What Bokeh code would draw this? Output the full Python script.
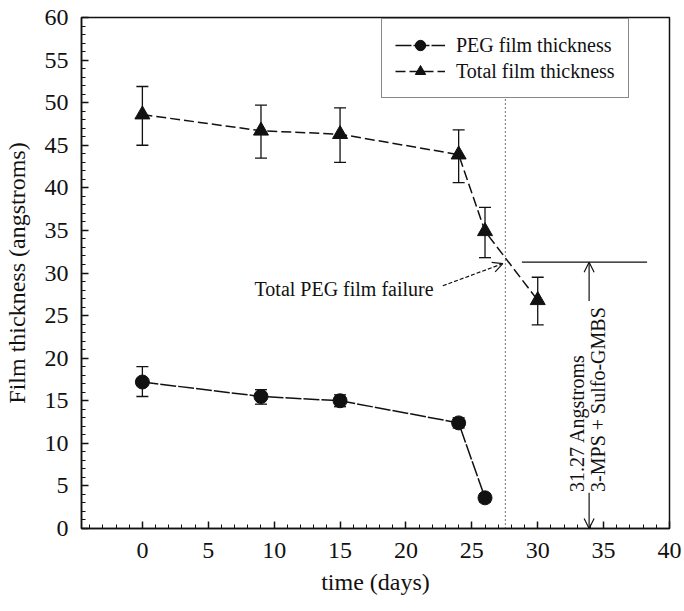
from bokeh.plotting import figure
from bokeh.models import (ColumnDataSource, Whisker, TeeHead, Arrow, OpenHead,
                          Legend, LegendItem, SingleIntervalTicker, Range1d)
from bokeh.core.properties import value
from bokeh.embed import file_html
from bokeh.resources import INLINE

# ---- data ----
total_days = [0, 9, 15, 24, 26, 30]
total_thk = [48.6, 46.7, 46.3, 43.9, 34.9, 26.8]
total_lo = [45.0, 43.5, 43.0, 40.6, 31.8, 23.9]
total_hi = [51.9, 49.7, 49.4, 46.8, 37.7, 29.5]

peg_days = [0, 9, 15, 24, 26]
peg_thk = [17.2, 15.5, 15.0, 12.4, 3.6]
peg_lo = [15.5, 14.6, 14.3, 11.8, 3.1]
peg_hi = [19.0, 16.3, 15.7, 13.0, 4.1]

failure_day = 27.55
base_layer = 31.27

FONT = "Liberation Serif"
INK = "#111111"

p = figure(width=684, height=611, output_backend="svg", toolbar_location=None,
           x_range=Range1d(-4.62, 40), y_range=Range1d(0, 60),
           min_border_left=81, min_border_right=15, min_border_top=17,
           min_border_bottom=83)
p.xgrid.visible = False
p.ygrid.visible = False
p.outline_line_color = INK
p.outline_line_width = 1.5
p.background_fill_color = "white"
p.border_fill_color = "white"

for ax in (p.xaxis[0], p.yaxis[0]):
    ax.ticker = SingleIntervalTicker(interval=5, num_minor_ticks=5)
    ax.major_tick_in = 7
    ax.major_tick_out = 0
    ax.minor_tick_in = 4
    ax.minor_tick_out = 0
    ax.axis_line_width = 1.5
    ax.axis_line_color = INK
    ax.major_tick_line_color = INK
    ax.minor_tick_line_color = INK
    ax.major_tick_line_width = 1.5
    ax.major_label_text_font = FONT
    ax.major_label_text_font_size = "24px"
    ax.major_label_text_color = INK
    ax.axis_label_text_font = FONT
    ax.axis_label_text_font_size = "24px"
    ax.axis_label_text_font_style = "normal"
    ax.axis_label_text_color = INK

p.xaxis.axis_label = "time (days)"
p.yaxis.axis_label = "Film thickness (angstroms)"
p.xaxis.major_label_standoff = 14
p.yaxis.major_label_standoff = 13
p.xaxis.axis_label_standoff = 8
p.yaxis.axis_label_standoff = 12

src_t = ColumnDataSource(dict(x=total_days, y=total_thk, lo=total_lo, hi=total_hi))
src_p = ColumnDataSource(dict(x=peg_days, y=peg_thk, lo=peg_lo, hi=peg_hi))

# reference lines
p.line([failure_day, failure_day], [0, 60], line_color=INK, line_width=1.2, line_dash="1 3")
p.line([28.8, 38.3], [base_layer, base_layer], line_color=INK, line_width=1.3)

# error bars
for src in (src_t, src_p):
    p.add_layout(Whisker(source=src, base="x", upper="hi", lower="lo", dimension="height",
                         line_color=INK, line_width=1.3,
                         upper_head=TeeHead(size=12, line_color=INK, line_width=1.3),
                         lower_head=TeeHead(size=12, line_color=INK, line_width=1.3)))

t_line = p.line("x", "y", source=src_t, line_color=INK, line_width=1.5, line_dash="10 4")
t_pts = p.scatter("x", "y", source=src_t, marker="triangle", size=15, fill_color=INK, line_color=INK)
p_line = p.line("x", "y", source=src_p, line_color=INK, line_width=1.5, line_dash="16 2")
p_pts = p.scatter("x", "y", source=src_p, marker="circle", size=14, fill_color=INK, line_color=INK)

# annotations
p.text(x=[22.1], y=[28.1], text=["Total PEG film failure"], text_font=value(FONT),
       text_font_size="20px", text_align="right", text_baseline="middle", text_color=INK)
p.add_layout(Arrow(end=OpenHead(size=10, line_color=INK, line_width=1.2),
                   x_start=22.8, y_start=28.5, x_end=27.35, y_end=31.1,
                   line_color=INK, line_width=1.2, line_dash="4 2"))

p.text(x=[32.95, 34.55], y=[4.3, 4.3], text=["31.27 Angstroms", "3-MPS + Sulfo-GMBS"],
       angle=1.5708, text_font=value(FONT), text_font_size="20px",
       text_align="left", text_baseline="middle", text_color=INK)
p.add_layout(Arrow(end=OpenHead(size=10, line_color=INK, line_width=1.2),
                   x_start=33.9, y_start=26.7, x_end=33.9, y_end=base_layer,
                   line_color=INK, line_width=1.2))
p.add_layout(Arrow(end=OpenHead(size=10, line_color=INK, line_width=1.2),
                   x_start=33.9, y_start=4.2, x_end=33.9, y_end=0,
                   line_color=INK, line_width=1.2))

legend = Legend(items=[LegendItem(label="PEG film thickness", renderers=[p_line, p_pts]),
                       LegendItem(label="Total film thickness", renderers=[t_line, t_pts])],
                location=(300, 430), orientation="vertical",
                label_text_font=FONT, label_text_font_size="20px", label_text_color=INK,
                glyph_width=50, glyph_height=26, label_height=26, label_standoff=11,
                padding=13, spacing=0, margin=0,
                border_line_color=INK, border_line_width=1.5,
                background_fill_color="white", background_fill_alpha=1.0)
p.add_layout(legend, "center")

open("out.html", "w").write(file_html(p, INLINE))
